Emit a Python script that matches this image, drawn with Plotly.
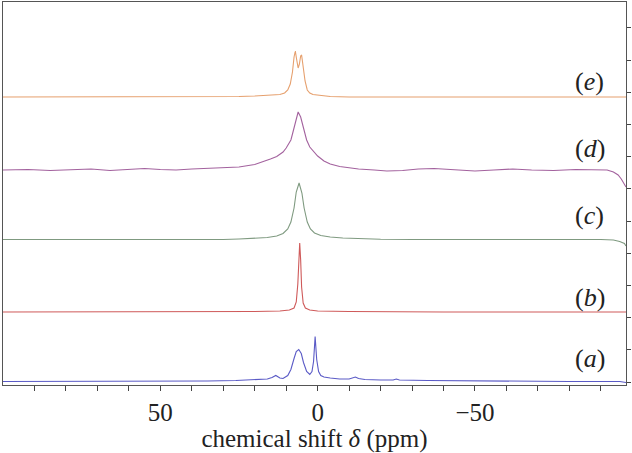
import plotly.graph_objects as go

# ---- data (ppm, height above each trace's baseline) ----
ppm_a = [100, 60, 35, 26, 20, 16, 14.5, 13.3, 12, 11, 9.5, 8.5, 7.5, 6.8, 6.0, 5.2, 4.5, 3.5, 2.5, 1.8, 1.3, 0.8, 0.3, -0.3, -1, -2, -4, -7, -10, -11.2, -12, -13, -15, -20, -24, -25, -26, -35, -50, -80, -96, -98]
int_a = [0, 0, 0.5, 1, 1.5, 2.5, 4, 6, 3.5, 3, 6, 12, 23, 30, 32, 28, 19, 10, 7, 10, 20, 45, 22, 10, 6, 4.5, 3.5, 2.5, 2.5, 4, 4.5, 3, 2, 1.5, 1.5, 2.5, 1.5, 1, 0.5, 0, 0, -1]

ppm_b = [100, 40, 20, 12, 9, 7.5, 6.8, 6.3, 6.0, 5.7, 5.4, 5.1, 4.6, 3.9, 2.5, 0, -10, -40, -98]
int_b = [0, 0, 0.5, 1, 2, 4, 10, 28, 55, 69, 52, 25, 9, 4, 2, 1, 0.5, 0, 0]

ppm_c = [100, 60, 40, 30, 25, 20, 16, 13, 11, 9.5, 8.5, 7.5, 6.8, 5.9, 5.0, 4.3, 3.3, 2.3, 1, -1, -4, -8, -12, -20, -30, -50, -70, -90, -94, -96, -97.5, -98]
int_c = [0.5, 0.5, 0, 0.5, 1, 1.5, 2.5, 4, 6.5, 11, 18, 32, 48, 57, 47, 32, 18, 11, 7, 4.5, 3, 2, 1.5, 0.8, 0.5, 0.5, 0.8, 0.5, 0, -1.5, -3.5, -6]

ppm_d = [100, 92, 85, 78, 72, 66, 60, 55, 50, 45, 40, 35, 30, 25, 20, 17, 15, 13, 11, 10, 9, 8.5, 8, 7, 6.2, 5.4, 4.5, 4, 3.5, 2.5, 1.5, 0, -2, -4, -7, -10, -13, -18, -22, -27, -32, -37, -43, -50, -56, -62, -68, -75, -82, -88, -92, -94, -95.5, -96.5, -97.5, -98]
int_d = [0, 0.5, -0.5, 0, 1, -0.5, 0.5, 1.5, 0.5, 0, 1, 1.5, 2, 3, 5.5, 8.5, 11, 13.5, 18, 22, 27, 30, 36, 49, 58, 53, 42, 36, 30, 23, 19, 14, 9, 6, 3.5, 2, 1, 0, -1, -0.5, 1, 1.5, 0, -1, 0, 1, 0, -0.5, 0.5, 0.5, 0, -2, -5, -9, -14, -17]

ppm_e = [100, 40, 25, 20, 15, 12, 10.5, 9.5, 8.7, 8.0, 7.5, 7.1, 6.7, 6.2, 5.8, 5.4, 5.1, 4.6, 4.0, 3.3, 2.5, 1.5, 0.3, -1, -4, -10, -30, -98]
int_e = [0, 0, 0.5, 1, 1.5, 2.5, 4, 7, 13, 25, 40, 46, 38, 29, 33, 41, 42, 30, 16, 7, 4, 2.5, 2, 1, 0.5, 0, 0, 0]

labels = ["(<i>a</i>)", "(<i>b</i>)", "(<i>c</i>)", "(<i>d</i>)", "(<i>e</i>)"]
baselines = [3.5, 73, 145, 215, 288]
label_y = [27, 88, 170, 237, 304]
colors = ["#5a5ac6", "#cf5a5a", "#7f9a80", "#a3629e", "#e6a06e"]

x_tick_vals = [-90, -80, -70, -60, -50, -40, -30, -20, -10, 0, 10, 20, 30, 40, 50, 60, 70, 80, 90]
x_tick_labels = {50: "50", 0: "0", -50: "\u221250"}

series = [(ppm_a, int_a), (ppm_b, int_b), (ppm_c, int_c), (ppm_d, int_d), (ppm_e, int_e)]

SERIF = "Liberation Serif, Times New Roman, Times, serif"

fig = go.Figure()
for (px, iy), base, col in zip(series, baselines, colors):
    fig.add_trace(go.Scatter(x=px, y=[base + v for v in iy], mode="lines",
                             line=dict(color=col, width=1.1), showlegend=False,
                             hoverinfo="skip"))

for lab, ly in zip(labels, label_y):
    fig.add_annotation(x=0.942, xref="paper", y=ly, yref="y", text=lab,
                       showarrow=False, xanchor="center", yanchor="middle",
                       font=dict(family=SERIF, size=26, color="#222"))

fig.update_layout(
    width=632, height=453,
    margin=dict(l=3, r=6, t=2, b=68),
    paper_bgcolor="white", plot_bgcolor="white",
    font=dict(family=SERIF, size=25, color="#222"),
    xaxis=dict(range=[100, -98], tickvals=x_tick_vals,
               ticktext=[x_tick_labels.get(v, "") for v in x_tick_vals],
               ticks="outside", ticklen=5, tickcolor="#444", tickwidth=1,
               showline=True, linecolor="#555", linewidth=1, mirror=True,
               showgrid=False, zeroline=False,
               tickfont=dict(family=SERIF, size=25, color="#222"),
               title=dict(text="chemical shift <i>\u03b4</i> (ppm)", standoff=6,
                          font=dict(family=SERIF, size=25, color="#222"))),
    yaxis=dict(range=[0, 383], side="right", tickvals=[3 + 32.2 * k for k in range(12)],
               showticklabels=False, ticks="outside", ticklen=4, tickcolor="#444",
               showline=True, linecolor="#555", linewidth=1, mirror=True,
               showgrid=False, zeroline=False),
)

fig.write_html("out.html", config={"displayModeBar": False},
               post_script="document.body.style.margin='0';")
